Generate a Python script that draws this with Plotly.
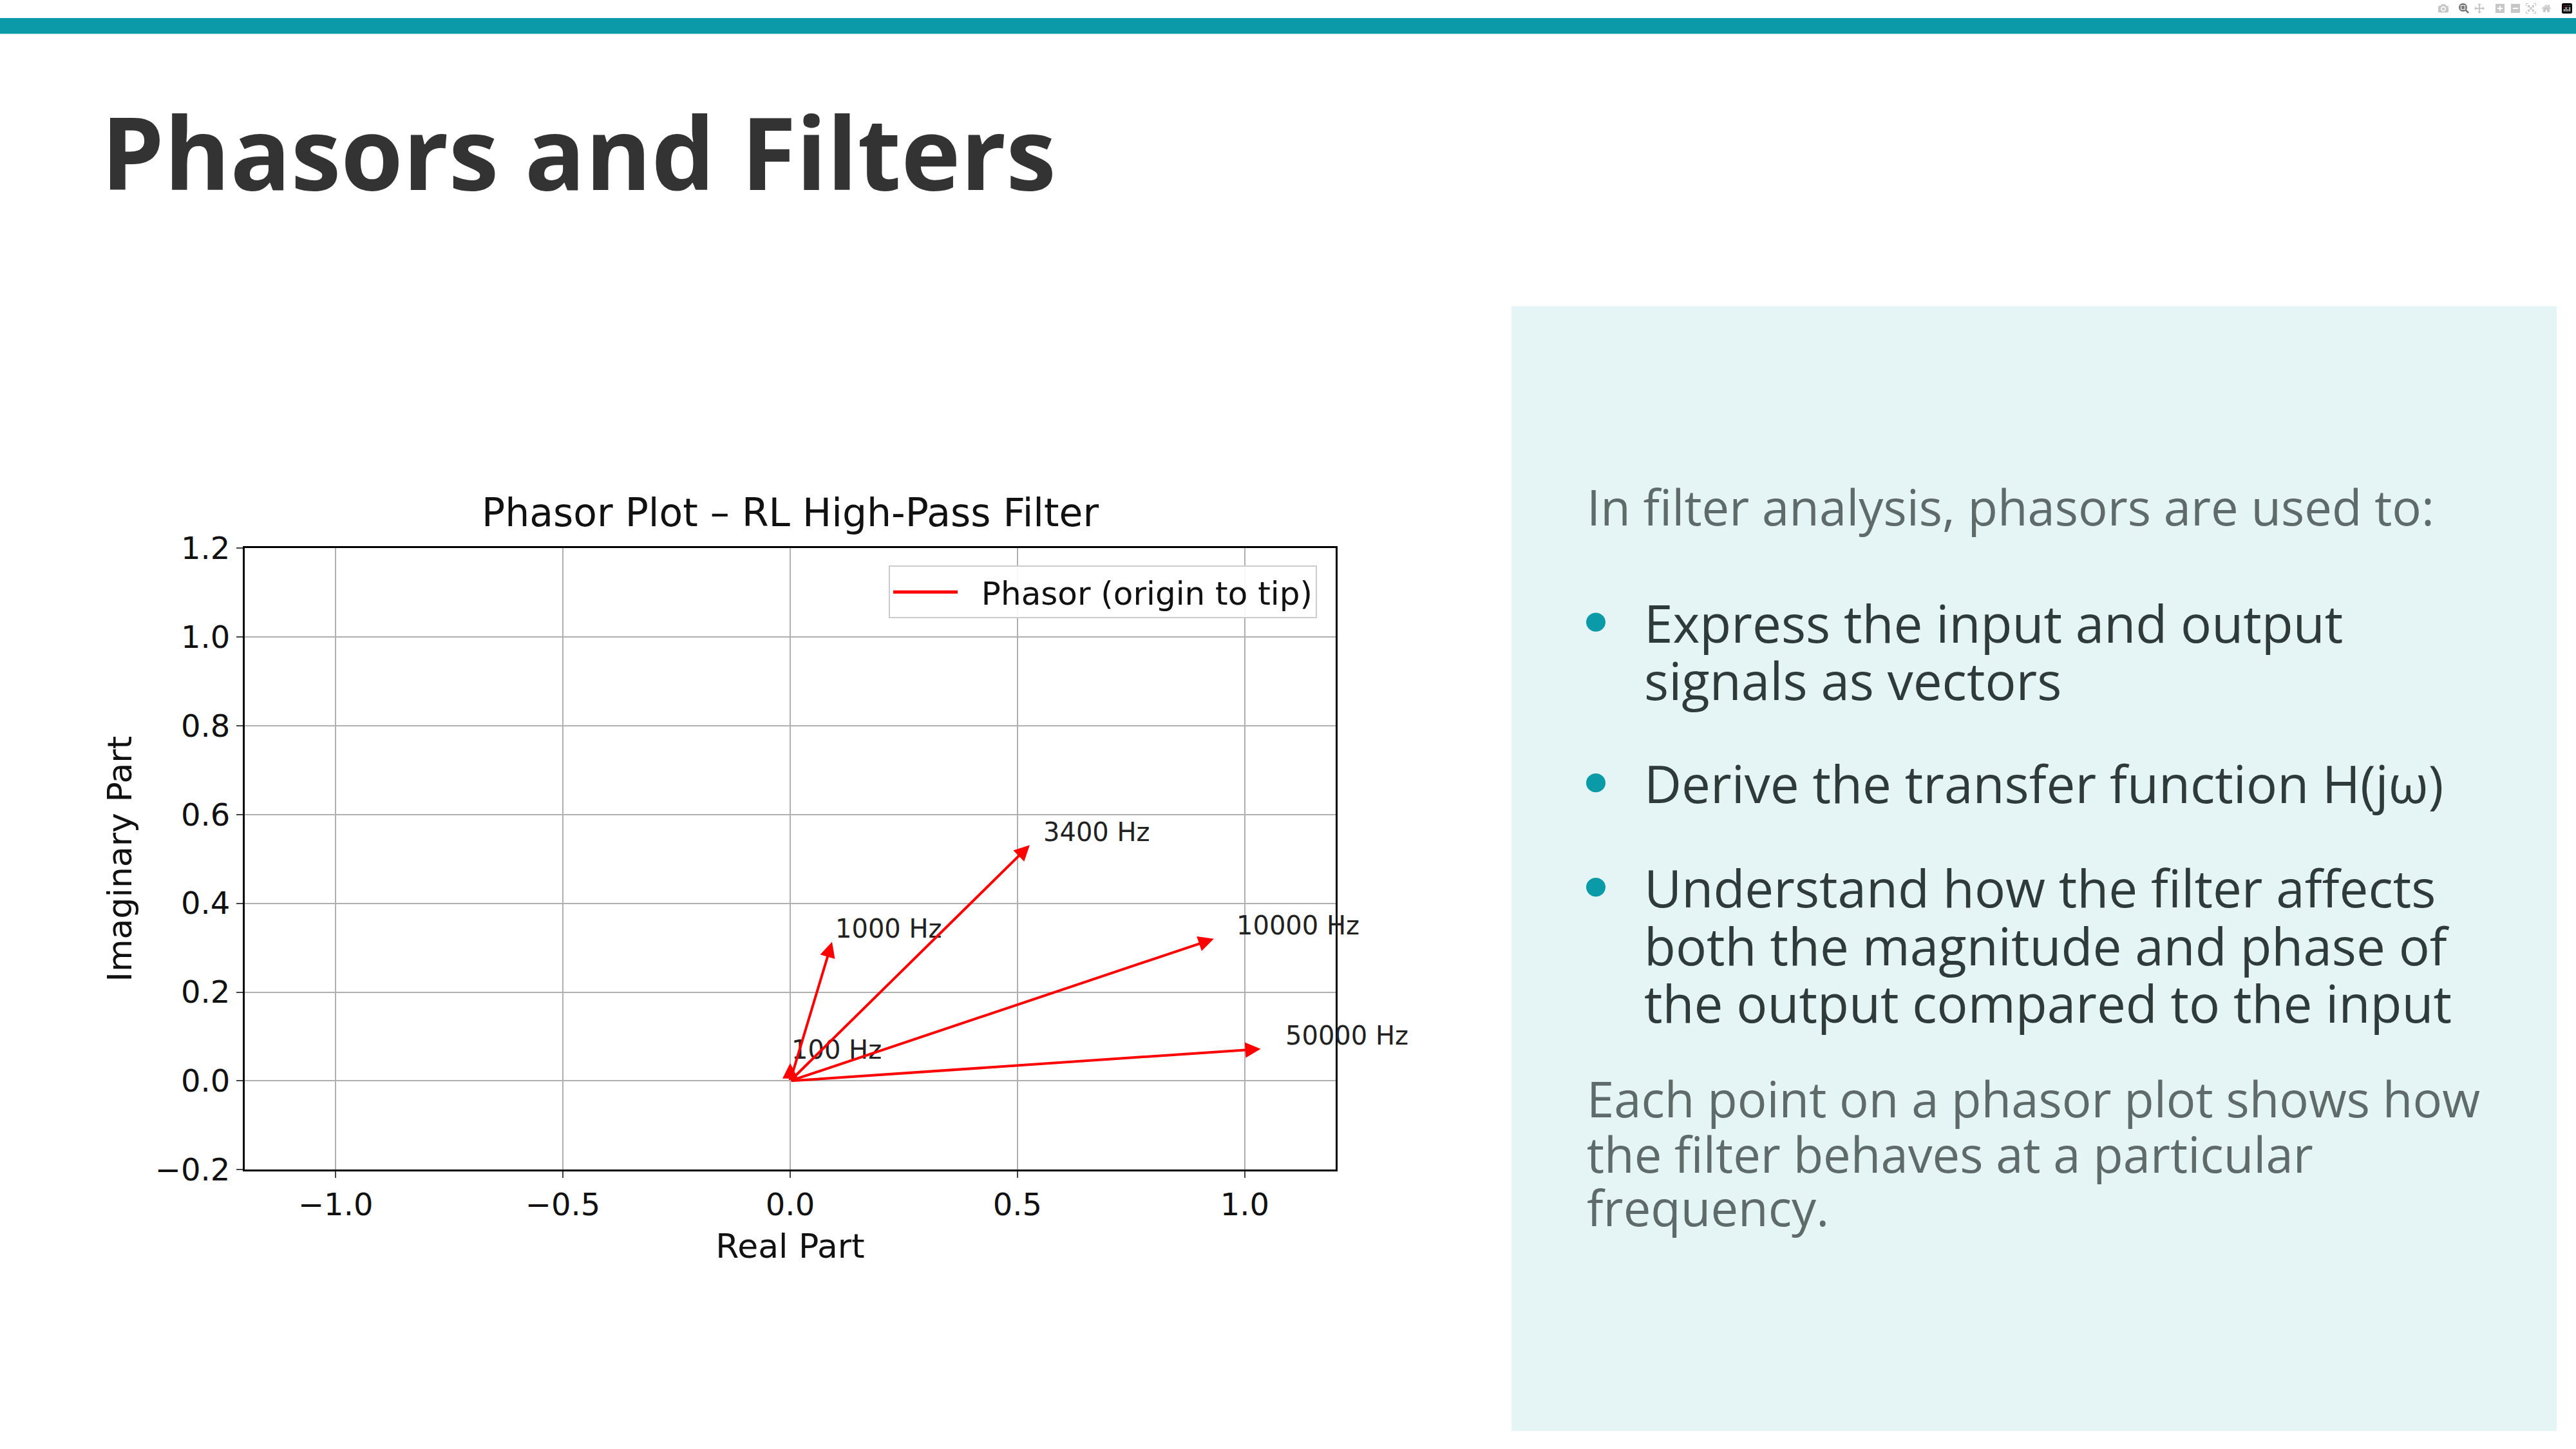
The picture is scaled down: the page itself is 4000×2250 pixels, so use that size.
import plotly.graph_objects as go

freq_labels = ["100 Hz", "1000 Hz", "3400 Hz", "10000 Hz", "50000 Hz"]
tip_real = [0.0, 0.092, 0.527, 0.932, 1.035]
tip_imag = [0.04, 0.313, 0.531, 0.320, 0.072]
x_ticks = [-1.0, -0.5, 0.0, 0.5, 1.0]
x_tick_text = ["\u22121.0", "\u22120.5", "0.0", "0.5", "1.0"]
y_ticks = [-0.2, 0.0, 0.2, 0.4, 0.6, 0.8, 1.0, 1.2]
y_tick_text = ["\u22120.2", "0.0", "0.2", "0.4", "0.6", "0.8", "1.0", "1.2"]

W, H = 4000, 2250
fig = go.Figure()
fig.add_trace(go.Scatter(x=[None], y=[None], mode="lines", line=dict(color="red", width=5),
                         name="  Phasor (origin to tip)", showlegend=True))

anns = []
for lab, xr, yi in zip(freq_labels, tip_real, tip_imag):
    anns.append(dict(x=xr, y=yi, ax=0, ay=0, xref="x", yref="y", axref="x", ayref="y",
                     showarrow=True, arrowhead=2, arrowsize=1.2, arrowwidth=4, arrowcolor="red", text=""))
    anns.append(dict(x=xr * 1.05, y=yi + 0.03, xref="x", yref="y", text=lab, showarrow=False,
                     xanchor="left", yanchor="middle",
                     font=dict(family="DejaVu Sans", size=40, color="#222")))

def px(x, y, text, size, color, bold=False, family="Open Sans"):
    t = f"<b>{text}</b>" if bold else text
    return dict(x=x / W, y=1 - y / H, xref="paper", yref="paper", text=t, showarrow=False,
                xanchor="left", yanchor="middle", font=dict(family=family, size=size, color=color))

anns.append(px(155, 212, "Phasors and Filters", 156, "#333333", bold=True))
anns.append(dict(x=(380 + 2074) / 2 / W, y=1 - 788 / H, xref="paper", yref="paper",
                 text="Phasor Plot \u2013 RL High-Pass Filter", showarrow=False,
                 font=dict(family="DejaVu Sans", size=60, color="#111"), xanchor="center", yanchor="middle"))

grey = "#5f6b6b"
dark = "#2f3a3a"
anns.append(px(2462, 778, "In filter analysis, phasors are used to:", 76, grey))
bullets = [(962, "Express the input and output"), (1054, "signals as vectors"),
           (1218, "Derive the transfer function H(j\u03c9)"),
           (1384, "Understand how the filter affects"), (1476, "both the magnitude and phase of"),
           (1568, "the output compared to the input")]
for y, t in bullets:
    anns.append(px(2551, y, t, 80, dark))
anns.append(px(2462, 1720, "Each point on a phasor plot shows how", 76, grey))
anns.append(px(2462, 1808, "the filter behaves at a particular", 76, grey))
anns.append(px(2462, 1894, "frequency.", 76, grey))

shapes = [
    dict(type="rect", xref="paper", yref="paper", x0=0, x1=1, y0=1 - 25 / H, y1=1,
         fillcolor="#0a9aa8", line_width=0, layer="below"),
    dict(type="rect", xref="paper", yref="paper", x0=2347 / W, x1=3970 / W, y0=0, y1=1 - 459 / H,
         fillcolor="#e5f4f4", line_width=0, layer="below"),
]
for y in [962, 1218, 1384]:
    shapes.append(dict(type="circle", xref="paper", yref="paper",
                       x0=(2478 - 15) / W, x1=(2478 + 15) / W, y0=1 - (y + 15) / H, y1=1 - (y - 15) / H,
                       fillcolor="#0a9aa8", line_width=0))

axis_common = dict(showgrid=True, gridcolor="#b0b0b0", gridwidth=2, showline=True, linecolor="black",
                   linewidth=3, mirror=True, ticks="outside", ticklen=10, tickwidth=2, zeroline=False,
                   tickfont=dict(family="DejaVu Sans", size=48, color="#111"))
fig.update_layout(
    width=W, height=H, plot_bgcolor="white", paper_bgcolor="white",
    margin=dict(l=0, r=0, t=0, b=0),
    xaxis=dict(domain=[380 / W, 2074 / W], range=[-1.2, 1.2], tickvals=x_ticks, ticktext=x_tick_text,
               title=dict(text="Real Part", font=dict(family="DejaVu Sans", size=52, color="#111"), standoff=20),
               **axis_common),
    yaxis=dict(domain=[1 - 1834 / H, 1 - 844 / H], range=[-0.2, 1.2], tickvals=y_ticks, ticktext=y_tick_text,
               title=dict(text="Imaginary Part", font=dict(family="DejaVu Sans", size=52, color="#111"), standoff=20),
               **axis_common),
    legend=dict(x=2045 / W, y=1 - 872 / H, xanchor="right", yanchor="top",
                xref="paper", yref="paper", itemwidth=100,
                bgcolor="rgba(255,255,255,0.9)", bordercolor="#cccccc", borderwidth=2,
                font=dict(family="DejaVu Sans", size=50, color="#111")),
    annotations=anns, shapes=shapes,
)
fig.write_html("out.html", post_script="document.body.style.margin='0';document.body.style.padding='0';")
